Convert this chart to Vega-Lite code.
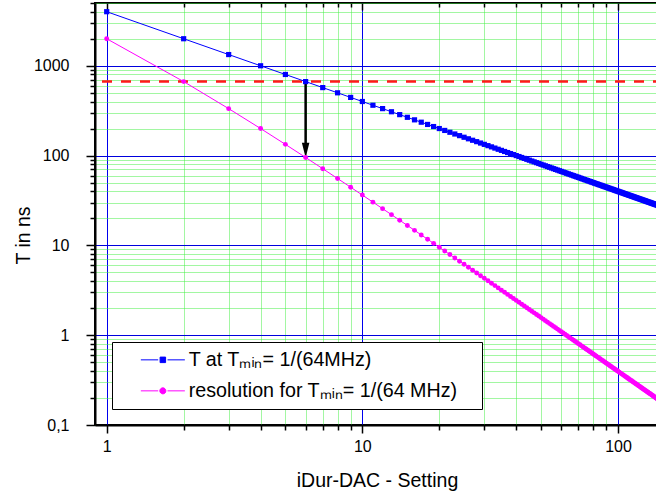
{
  "$schema": "https://vega.github.io/schema/vega-lite/v6.json",
  "width": 568,
  "height": 422,
  "autosize": {"type": "none"},
  "padding": {"left": 95, "top": 3, "right": -7, "bottom": 68},
  "config": {
    "font": "Liberation Sans",
    "view": {"stroke": "black", "strokeWidth": 2},
    "axis": {"labelFont": "Liberation Sans", "titleFont": "Liberation Sans", "labelColor": "black", "titleColor": "black", "titleFontWeight": "normal"}
  },
  "datasets": {
    "main": [
      {"n":1,"T":4000,"R":2000},{"n":2,"T":2000,"R":666.7},{"n":3,"T":1333.3,"R":333.3},{"n":4,"T":1000,"R":200},{"n":5,"T":800,"R":133.3},
      {"n":6,"T":666.7,"R":95.24},{"n":7,"T":571.4,"R":71.43},{"n":8,"T":500,"R":55.56},{"n":9,"T":444.4,"R":44.44},{"n":10,"T":400,"R":36.36},
      {"n":11,"T":363.6,"R":30.3},{"n":12,"T":333.3,"R":25.64},{"n":13,"T":307.7,"R":21.98},{"n":14,"T":285.7,"R":19.05},{"n":15,"T":266.7,"R":16.67},
      {"n":16,"T":250,"R":14.71},{"n":17,"T":235.3,"R":13.07},{"n":18,"T":222.2,"R":11.7},{"n":19,"T":210.5,"R":10.53},{"n":20,"T":200,"R":9.524},
      {"n":21,"T":190.5,"R":8.658},{"n":22,"T":181.8,"R":7.905},{"n":23,"T":173.9,"R":7.246},{"n":24,"T":166.7,"R":6.667},{"n":25,"T":160,"R":6.154},
      {"n":26,"T":153.8,"R":5.698},{"n":27,"T":148.1,"R":5.291},{"n":28,"T":142.9,"R":4.926},{"n":29,"T":137.9,"R":4.598},{"n":30,"T":133.3,"R":4.301},
      {"n":31,"T":129,"R":4.032},{"n":32,"T":125,"R":3.788},{"n":33,"T":121.2,"R":3.565},{"n":34,"T":117.6,"R":3.361},{"n":35,"T":114.3,"R":3.175},
      {"n":36,"T":111.1,"R":3.003},{"n":37,"T":108.1,"R":2.845},{"n":38,"T":105.3,"R":2.699},{"n":39,"T":102.6,"R":2.564},{"n":40,"T":100,"R":2.439},
      {"n":41,"T":97.56,"R":2.323},{"n":42,"T":95.24,"R":2.215},{"n":43,"T":93.02,"R":2.114},{"n":44,"T":90.91,"R":2.02},{"n":45,"T":88.89,"R":1.932},
      {"n":46,"T":86.96,"R":1.85},{"n":47,"T":85.11,"R":1.773},{"n":48,"T":83.33,"R":1.701},{"n":49,"T":81.63,"R":1.633},{"n":50,"T":80,"R":1.569},
      {"n":51,"T":78.43,"R":1.508},{"n":52,"T":76.92,"R":1.451},{"n":53,"T":75.47,"R":1.398},{"n":54,"T":74.07,"R":1.347},{"n":55,"T":72.73,"R":1.299},
      {"n":56,"T":71.43,"R":1.253},{"n":57,"T":70.18,"R":1.21},{"n":58,"T":68.97,"R":1.169},{"n":59,"T":67.8,"R":1.13},{"n":60,"T":66.67,"R":1.093},
      {"n":61,"T":65.57,"R":1.058},{"n":62,"T":64.52,"R":1.024},{"n":63,"T":63.49,"R":0.992},{"n":64,"T":62.5,"R":0.9615},{"n":65,"T":61.54,"R":0.9324},
      {"n":66,"T":60.61,"R":0.9046},{"n":67,"T":59.7,"R":0.878},{"n":68,"T":58.82,"R":0.8525},{"n":69,"T":57.97,"R":0.8282},{"n":70,"T":57.14,"R":0.8048},
      {"n":71,"T":56.34,"R":0.7825},{"n":72,"T":55.56,"R":0.761},{"n":73,"T":54.79,"R":0.7404},{"n":74,"T":54.05,"R":0.7207},{"n":75,"T":53.33,"R":0.7018},
      {"n":76,"T":52.63,"R":0.6835},{"n":77,"T":51.95,"R":0.666},{"n":78,"T":51.28,"R":0.6492},{"n":79,"T":50.63,"R":0.6329},{"n":80,"T":50,"R":0.6173},
      {"n":81,"T":49.38,"R":0.6022},{"n":82,"T":48.78,"R":0.5877},{"n":83,"T":48.19,"R":0.5737},{"n":84,"T":47.62,"R":0.5602},{"n":85,"T":47.06,"R":0.5472},
      {"n":86,"T":46.51,"R":0.5346},{"n":87,"T":45.98,"R":0.5225},{"n":88,"T":45.45,"R":0.5107},{"n":89,"T":44.94,"R":0.4994},{"n":90,"T":44.44,"R":0.4884},
      {"n":91,"T":43.96,"R":0.4778},{"n":92,"T":43.48,"R":0.4675},{"n":93,"T":43.01,"R":0.4576},{"n":94,"T":42.55,"R":0.448},{"n":95,"T":42.11,"R":0.4386},
      {"n":96,"T":41.67,"R":0.4296},{"n":97,"T":41.24,"R":0.4208},{"n":98,"T":40.82,"R":0.4123},{"n":99,"T":40.4,"R":0.404},{"n":100,"T":40,"R":0.396},
      {"n":101,"T":39.6,"R":0.3883},{"n":102,"T":39.22,"R":0.3807},{"n":103,"T":38.83,"R":0.3734},{"n":104,"T":38.46,"R":0.3663},{"n":105,"T":38.1,"R":0.3594},
      {"n":106,"T":37.74,"R":0.3526},{"n":107,"T":37.38,"R":0.3461},{"n":108,"T":37.04,"R":0.3398},{"n":109,"T":36.7,"R":0.3336},{"n":110,"T":36.36,"R":0.3276},
      {"n":111,"T":36.04,"R":0.3217},{"n":112,"T":35.71,"R":0.3161},{"n":113,"T":35.4,"R":0.3105},{"n":114,"T":35.09,"R":0.3051},{"n":115,"T":34.78,"R":0.2999},
      {"n":116,"T":34.48,"R":0.2948},{"n":117,"T":34.19,"R":0.2898},{"n":118,"T":33.9,"R":0.2849},{"n":119,"T":33.61,"R":0.2802},{"n":120,"T":33.33,"R":0.2755},
      {"n":121,"T":33.06,"R":0.271},{"n":122,"T":32.79,"R":0.2666},{"n":123,"T":32.52,"R":0.2623},{"n":124,"T":32.26,"R":0.2581},{"n":125,"T":32,"R":0.254},
      {"n":126,"T":31.75,"R":0.25},{"n":127,"T":31.5,"R":0.2461},{"n":128,"T":31.25,"R":0.2422},{"n":129,"T":31.01,"R":0.2385},{"n":130,"T":30.77,"R":0.2349},
      {"n":131,"T":30.53,"R":0.2313},{"n":132,"T":30.3,"R":0.2278},{"n":133,"T":30.08,"R":0.2244},{"n":134,"T":29.85,"R":0.2211},{"n":135,"T":29.63,"R":0.2179},
      {"n":136,"T":29.41,"R":0.2147},{"n":137,"T":29.2,"R":0.2116},{"n":138,"T":28.99,"R":0.2085},{"n":139,"T":28.78,"R":0.2056},{"n":140,"T":28.57,"R":0.2026},
      {"n":141,"T":28.37,"R":0.1998},{"n":142,"T":28.17,"R":0.197},{"n":143,"T":27.97,"R":0.1943},{"n":144,"T":27.78,"R":0.1916},{"n":145,"T":27.59,"R":0.1889},
      {"n":146,"T":27.4,"R":0.1864},{"n":147,"T":27.21,"R":0.1839},{"n":148,"T":27.03,"R":0.1814},{"n":149,"T":26.85,"R":0.179},{"n":150,"T":26.67,"R":0.1766}
    ],
    "hline": [{"y": 666.7}],
    "arrow": [{"n": 6, "y1": 666.7, "y2": 125}],
    "head": [{"n": 6, "y": 114.6}]
  },
  "layer": [
    {
      "layer": [
        {
          "data": {"name": "hline"},
          "mark": {"type": "rule", "color": "#ff1a1a", "strokeWidth": 2.5, "strokeDash": [10, 9]},
          "encoding": {
            "y": {"field": "y", "type": "quantitative", "scale": {"type": "log", "domain": [0.1, 5000], "nice": false}}
          }
        },
        {
          "data": {"name": "arrow"},
          "mark": {"type": "rule", "color": "black", "strokeWidth": 2.5},
          "encoding": {
            "x": {"field": "n", "type": "quantitative", "scale": {"type": "log", "domain": [0.9, 150], "nice": false}},
            "y": {"field": "y1", "type": "quantitative", "scale": {"type": "log", "domain": [0.1, 5000], "nice": false}},
            "y2": {"field": "y2"}
          }
        },
        {
          "data": {"name": "head"},
          "mark": {"type": "point", "filled": true, "opacity": 1, "color": "black", "shape": "M-0.5,-1L0.5,-1L0,1Z", "size": 225},
          "encoding": {
            "x": {"field": "n", "type": "quantitative", "scale": {"type": "log", "domain": [0.9, 150], "nice": false}},
            "y": {"field": "y", "type": "quantitative", "scale": {"type": "log", "domain": [0.1, 5000], "nice": false}}
          }
        },
        {
          "data": {"name": "main"},
          "transform": [{"fold": ["T", "R"], "as": ["series", "value"]}],
          "mark": {"type": "line", "strokeWidth": 1, "clip": true},
          "encoding": {
            "x": {
              "field": "n", "type": "quantitative",
              "scale": {"type": "log", "domain": [0.9, 150], "nice": false},
              "axis": {
                "orient": "bottom",
                "values": [1,2,3,4,5,6,7,8,9,10,20,30,40,50,60,70,80,90,100],
                "labelExpr": "indexof([1,10,100], datum.value) >= 0 ? toString(datum.value) : ''",
                "labelFontSize": 16, "labelFlush": false, "labelOverlap": false, "labelPadding": 5,
                "tickSize": {"condition": {"test": "indexof([1,10,100], datum.value) >= 0", "value": 8}, "value": 5},
                "tickColor": "black", "tickWidth": 1.5,
                "domainColor": "black", "domainWidth": 2,
                "grid": true,
                "gridColor": {"condition": {"test": "indexof([1,10,100], datum.value) >= 0", "value": "#0000ee"}, "value": "#44ee44"},
                "gridDash": {"condition": {"test": "indexof([1,10,100], datum.value) >= 0", "value": []}, "value": [1, 1]},
                "gridWidth": 1, "gridOpacity": 1,
                "title": "iDur-DAC - Setting", "titleFontSize": 19.5,
                "titleX": 282, "titleY": 61, "titleBaseline": "alphabetic", "titleAlign": "center"
              }
            },
            "y": {
              "field": "value", "type": "quantitative",
              "scale": {"type": "log", "domain": [0.1, 5000], "nice": false},
              "axis": {
                "orient": "left",
                "values": [0.1,0.2,0.3,0.4,0.5,0.6,0.7,0.8,0.9,1,2,3,4,5,6,7,8,9,10,20,30,40,50,60,70,80,90,100,200,300,400,500,600,700,800,900,1000,2000,3000,4000,5000],
                "labelExpr": "datum.value == 0.1 ? '0,1' : (indexof([1,10,100,1000], datum.value) >= 0 ? toString(datum.value) : '')",
                "labelFontSize": 16, "labelFlush": false, "labelOverlap": false, "labelPadding": 17,
                "tickSize": {"condition": {"test": "indexof([0.1,1,10,100,1000], datum.value) >= 0", "value": 9}, "value": 5},
                "tickColor": "black", "tickWidth": 1.5,
                "domainColor": "black", "domainWidth": 2,
                "grid": true,
                "gridColor": {"condition": {"test": "indexof([1,10,100,1000], datum.value) >= 0", "value": "#0000dd"}, "value": "#44ee44"},
                "gridDash": {"condition": {"test": "indexof([1,10,100,1000], datum.value) >= 0", "value": []}, "value": [1, 1]},
                "gridWidth": 1, "gridOpacity": 1,
                "title": "T in ns", "titleFontSize": 19.5,
                "titleX": -72, "titleY": 232, "titleBaseline": "middle", "titleAlign": "center", "titleAngle": -90
              }
            },
            "color": {
              "field": "series", "type": "nominal",
              "scale": {"domain": ["T", "R"], "range": ["#0000ff", "#ff00ff"]},
              "legend": {
                "orient": "none", "legendX": 17, "legendY": 339,
                "title": "\u00a0", "titleOrient": "right", "titlePadding": 17, "titleFontSize": 10,
                "labelExpr": "datum.value == 'T' ? 'T at Tₘᵢₙ= 1/(64MHz)' : 'resolution for Tₘᵢₙ= 1/(64 MHz)'",
                "labelFontSize": 19.7, "labelColor": "black", "labelLimit": 0,
                "symbolSize": 121, "symbolStrokeWidth": 1, "symbolOffset": 33, "labelOffset": 16,
                "padding": 8, "rowPadding": 10,
                "strokeColor": "black", "fillColor": "white",
                "encode": {
                  "symbols": {
                    "update": {
                      "shape": {"signal": "datum.value == 'T' ? 'M-4,0H-0.85M0.85,0H4M-0.5,-0.5H0.5V0.5H-0.5Z' : 'M-4,0H-0.85M0.85,0H4M0.55,0A0.55,0.55 0 1,1 -0.55,0A0.55,0.55 0 1,1 0.55,0Z'"},
                      "fill": {"signal": "datum.value == 'T' ? '#0000ff' : '#ff00ff'"},
                      "stroke": {"signal": "datum.value == 'T' ? '#0000ff' : '#ff00ff'"},
                      "opacity": {"value": 1}
                    }
                  }
                }
              }
            }
          }
        },
        {
          "data": {"name": "main"},
          "mark": {"type": "point", "filled": true, "opacity": 1, "size": 27, "shape": "square", "color": "#0000ff", "clip": true},
          "encoding": {
            "x": {"field": "n", "type": "quantitative", "scale": {"type": "log", "domain": [0.9, 150], "nice": false}},
            "y": {"field": "T", "type": "quantitative", "scale": {"type": "log", "domain": [0.1, 5000], "nice": false}}
          }
        },
        {
          "data": {"name": "main"},
          "mark": {"type": "point", "filled": true, "opacity": 1, "size": 24, "shape": "circle", "color": "#ff00ff", "clip": true},
          "encoding": {
            "x": {"field": "n", "type": "quantitative", "scale": {"type": "log", "domain": [0.9, 150], "nice": false}},
            "y": {"field": "R", "type": "quantitative", "scale": {"type": "log", "domain": [0.1, 5000], "nice": false}}
          }
        }
      ]
    },
    {
      "data": {"name": "main"},
      "mark": {"type": "point", "opacity": 0},
      "encoding": {
        "x": {
          "field": "n", "type": "quantitative",
          "scale": {"type": "log", "domain": [0.9, 150], "nice": false},
          "axis": {
            "orient": "top",
            "values": [1,2,3,4,5,6,7,8,9,10,20,30,40,50,60,70,80,90,100],
            "labels": false, "domain": false, "grid": false, "title": null,
            "tickSize": {"condition": {"test": "indexof([1,10,100], datum.value) >= 0", "value": -7}, "value": -4},
            "tickColor": "black", "tickWidth": 1.5
          }
        }
      }
    }
  ],
  "resolve": {"axis": {"x": "independent"}}
}
